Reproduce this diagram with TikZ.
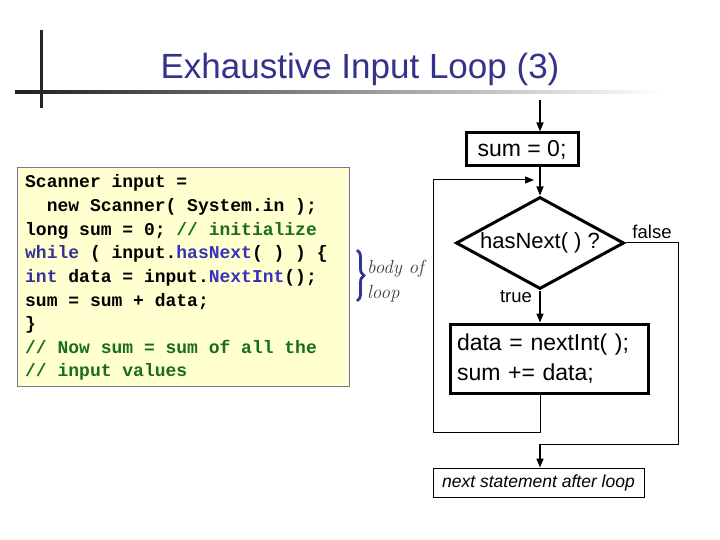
\documentclass[tikz,border=0pt]{standalone}
\usepackage{fontspec}
\setsansfont{Liberation Sans}
\setmonofont{Liberation Mono}
\usetikzlibrary{arrows.meta,shapes.geometric,decorations.pathreplacing}
\definecolor{titleblue}{RGB}{51,51,140}
\definecolor{kwblue}{RGB}{51,51,153}
\definecolor{mblue}{RGB}{51,51,190}
\definecolor{cgreen}{RGB}{25,110,25}
\definecolor{codefill}{RGB}{255,255,208}
\definecolor{codeedge}{RGB}{120,120,150}
\newcommand{\kw}[1]{\textcolor{kwblue}{#1}}
\newcommand{\mth}[1]{\textcolor{mblue}{#1}}
\newcommand{\cmt}[1]{\textcolor{cgreen}{#1}}
\begin{document}
\begin{tikzpicture}[x=1bp,y=-1bp,
  codeline/.style={anchor=base west, inner sep=0pt, font=\ttfamily\bfseries\fontsize{18bp}{22bp}\selectfont},
  fbox/.style={draw, line width=3bp, inner sep=0pt, font=\sffamily\fontsize{23bp}{28bp}\selectfont},
  lbl/.style={inner sep=0pt, font=\sffamily\fontsize{18.5bp}{22bp}\selectfont},
  tipa/.style={-{Triangle[length=9bp,width=7bp]}},
  flow/.style={line width=1.6bp, tipa},
  thinline/.style={line width=1bp}]
\useasboundingbox (0,0) rectangle (720,540);
% title decorations
\shade[left color=black!88, right color=white] (15,90.5) rectangle (662,93.5);
\draw[line width=3bp, black!85] (41,30) -- (41,108);
\node[anchor=base, inner sep=0pt, font=\sffamily\fontsize{35bp}{40bp}\selectfont, text=titleblue] (title) at (360,79) {Exhaustive Input Loop (3)};
% code box
\node[draw=codeedge, fill=codefill, line width=1bp, minimum width=331bp, minimum height=218bp, inner sep=0pt] (codebox) at (183.5,277) {};
\node[codeline] (c1) at (25,188) {Scanner input =};
\node[codeline] (c2) at (25,211.6) {\phantom{xx}new Scanner( System.in );};
\node[codeline] (c3) at (25,235.2) {long sum = 0; \cmt{// initialize}};
\node[codeline] (c4) at (25,258.8) {\kw{while} ( input.\mth{hasNext}( ) ) \{};
\node[codeline] (c5) at (25,282.4) {\kw{int} data = input.\mth{NextInt}();};
\node[codeline] (c6) at (25,306) {sum = sum + data;};
\node[codeline] (c7) at (25,329.6) {\}};
\node[codeline] (c8) at (25,353.2) {\cmt{// Now sum = sum of all the}};
\node[codeline] (c9) at (25,376.8) {\cmt{// input values}};
% brace
\draw[kwblue, line width=2.8bp, decorate, decoration={brace, amplitude=7bp}] (357,250) -- (357,301);
\node[anchor=base west, inner sep=0pt, font=\itshape\fontsize{19bp}{22bp}\selectfont, text=black!75] (body1) at (367,274) {body of};
\node[anchor=base west, inner sep=0pt, font=\itshape\fontsize{19bp}{22bp}\selectfont, text=black!75] (body2) at (367,298) {loop};
% flowchart
\node[fbox, minimum width=112bp, minimum height=33bp] (sum) at (522,149.5) {sum = 0;};
\node[fbox, diamond, aspect=1.85, minimum width=168bp, minimum height=92bp, font=\sffamily\fontsize{22bp}{26bp}\selectfont] (dia) at (540,243) {hasNext( ) ?};
\node[fbox, minimum width=198bp, minimum height=69bp, text width=184bp, inner xsep=7bp, align=left, font=\sffamily\fontsize{23bp}{30bp}\selectfont] (data) at (549,358.5) {data = nextInt( );\\sum += data;};
\node[draw, line width=1bp, minimum width=211bp, minimum height=29bp, inner sep=0pt, font=\sffamily\itshape\fontsize{17.5bp}{20bp}\selectfont] (next) at (538.5,482.5) {next statement after loop};
\node[lbl] (false) at (652,232) {false};
\node[lbl] (true) at (516,297) {true};
\coordinate (top) at (540,100);
\coordinate (loopA) at (540,432);
\coordinate (loopB) at (433,432);
\coordinate (loopC) at (433,180);
\coordinate (loopD) at (534,180);
\coordinate (fA) at (678,243);
\coordinate (fB) at (678,444);
\coordinate (fC) at (540,444);
\draw[flow] (top) -- (sum.north -| top);
\draw[flow] (sum.south -| top) -- (dia.north);
\draw[flow] (dia.south) -- (data.north -| dia.south);
\draw[thinline] (data.south -| dia.south) -- (loopA) -- (loopB) -- (loopC);
\draw[thinline, tipa] (loopC) -- (loopD);
\draw[thinline] (dia.east) -- (fA) -- (fB) -- (fC);
\draw[flow] (fC) -- (next.north -| fC);
\end{tikzpicture}
\end{document}
